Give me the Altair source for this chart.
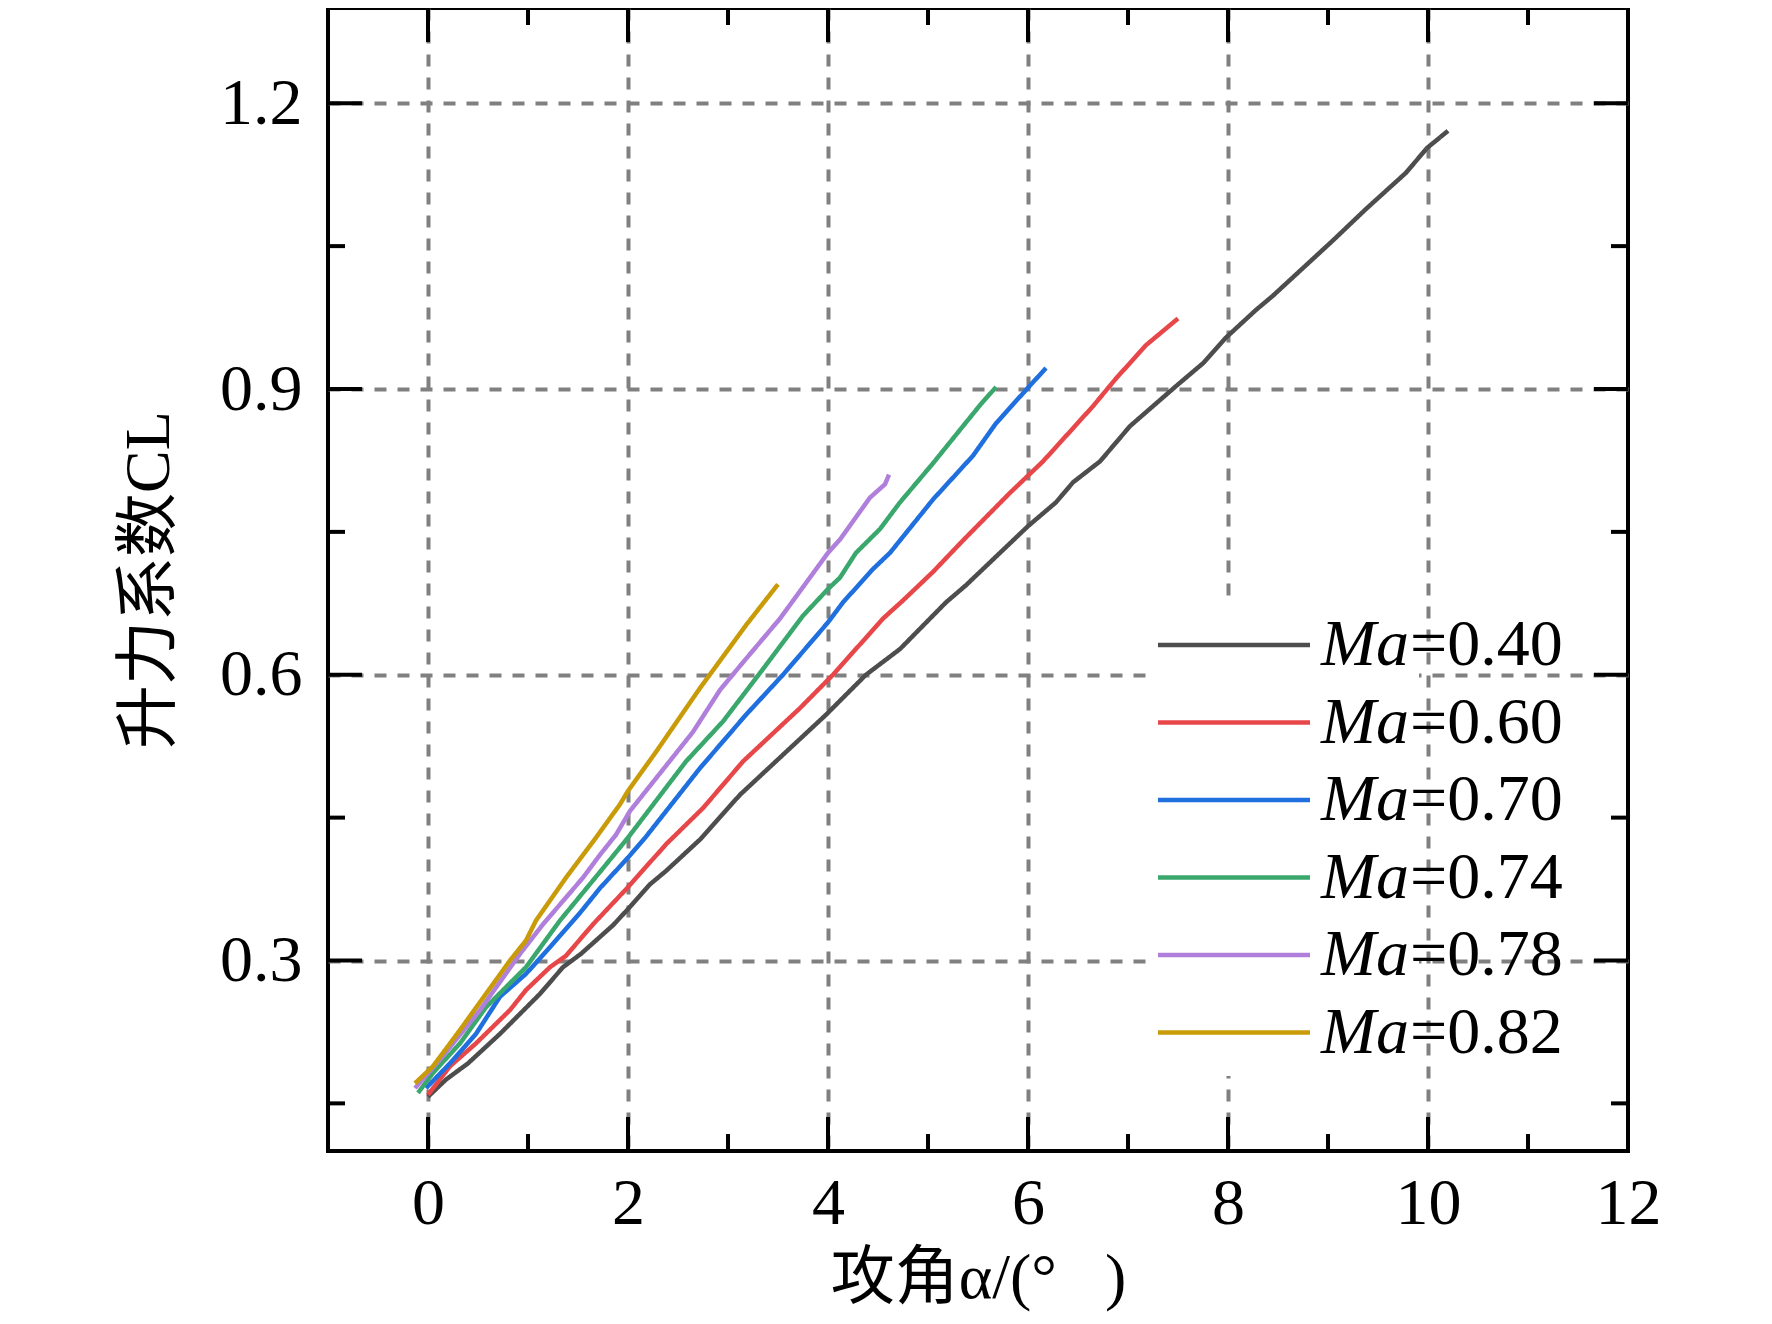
import altair as alt
import pandas as pd

# ---------------- data ----------------
mach_labels = ["0.40", "0.60", "0.70", "0.74", "0.78", "0.82"]
line_colors = ["#4d4d4d", "#e8474a", "#1f6fdf", "#3aa76d", "#b07fdb", "#c99b08"]

alpha_040 = [0.0, 0.18, 0.40, 0.72, 1.12, 1.35, 1.53, 1.85, 2.0, 2.22, 2.38, 2.72, 3.12, 3.98, 4.38, 4.72,
             5.18, 5.38, 6.0, 6.28, 6.45, 6.72, 7.02, 7.48, 7.75, 7.98, 8.28, 8.45, 9.05, 9.38, 9.78, 9.99, 10.2]
cl_040 = [0.157, 0.175, 0.192, 0.223, 0.265, 0.293, 0.307, 0.337, 0.354, 0.380, 0.394, 0.427, 0.474, 0.558, 0.600, 0.627,
          0.676, 0.694, 0.756, 0.781, 0.802, 0.824, 0.861, 0.903, 0.927, 0.954, 0.983, 0.998, 1.056, 1.089, 1.127, 1.153, 1.171]

alpha_060 = [0.0, 0.22, 0.48, 0.82, 0.98, 1.22, 1.38, 1.65, 2.0, 2.38, 2.75, 3.15, 3.72, 4.05, 4.55, 4.75,
             5.05, 5.35, 5.82, 6.15, 6.65, 6.88, 7.18, 7.50]
cl_060 = [0.159, 0.189, 0.213, 0.248, 0.269, 0.293, 0.305, 0.338, 0.377, 0.422, 0.460, 0.509, 0.565, 0.600, 0.659, 0.678,
          0.708, 0.741, 0.791, 0.824, 0.882, 0.911, 0.946, 0.974]

alpha_070 = [-0.02, 0.22, 0.48, 0.72, 0.98, 1.22, 1.52, 1.72, 2.0, 2.18, 2.72, 3.18, 3.55, 4.0, 4.15, 4.45,
             4.62, 5.05, 5.45, 5.68, 5.98, 6.18]
cl_070 = [0.166, 0.192, 0.223, 0.262, 0.286, 0.314, 0.350, 0.376, 0.408, 0.430, 0.502, 0.558, 0.600, 0.655, 0.676, 0.711,
          0.728, 0.784, 0.830, 0.864, 0.899, 0.922]

alpha_074 = [-0.10, 0.05, 0.32, 0.58, 0.98, 1.32, 1.72, 2.0, 2.58, 2.95, 3.35, 3.75, 4.0, 4.12, 4.28, 4.52,
             4.72, 5.05, 5.35, 5.52, 5.68]
cl_074 = [0.161, 0.182, 0.213, 0.251, 0.293, 0.342, 0.393, 0.429, 0.509, 0.551, 0.606, 0.662, 0.690, 0.702, 0.728, 0.753,
          0.781, 0.822, 0.861, 0.883, 0.902]

alpha_078 = [-0.13, 0.12, 0.52, 0.92, 1.15, 1.55, 1.72, 1.88, 2.02, 2.65, 2.92, 3.15, 3.52, 4.0, 4.12, 4.42, 4.57, 4.61]
cl_078 = [0.166, 0.196, 0.248, 0.307, 0.338, 0.387, 0.411, 0.432, 0.457, 0.540, 0.584, 0.613, 0.659, 0.728, 0.742, 0.786,
          0.800, 0.810]

alpha_082 = [-0.13, 0.05, 0.32, 0.58, 0.82, 0.98, 1.08, 1.38, 1.68, 1.92, 2.0, 2.28, 2.72, 3.18, 3.50]
cl_082 = [0.171, 0.189, 0.227, 0.265, 0.300, 0.321, 0.342, 0.387, 0.429, 0.464, 0.478, 0.519, 0.586, 0.652, 0.695]

x_label_values = [0, 2, 4, 6, 8, 10, 12]
y_label_values = [0.3, 0.6, 0.9, 1.2]
x_major_ticks = [0, 2, 4, 6, 8, 10]
x_minor_ticks = [1, 3, 5, 7, 9, 11]
y_major_ticks = [0.3, 0.6, 0.9, 1.2]
y_minor_ticks = [0.15, 0.45, 0.75, 1.05]

x_title = "攻角α/(°\u00a0\u00a0\u00a0)"
y_title = "升力系数CL"

# ---------------- build table ----------------
series = [(alpha_040, cl_040), (alpha_060, cl_060), (alpha_070, cl_070),
          (alpha_074, cl_074), (alpha_078, cl_078), (alpha_082, cl_082)]
rows = []
for lab, (xs, ys) in zip(mach_labels, series):
    for i, (a, c) in enumerate(zip(xs, ys)):
        rows.append({"Ma": lab, "Ma2": lab, "alpha": a, "cl": c, "idx": i})
df = pd.DataFrame(rows)

W, H = 1300, 1143
MAJ, MIN = 34, 17

serif = "Liberation Serif"
title_font = "Liberation Serif, Noto Sans CJK SC"

x_scale = alt.Scale(domain=[-1, 12], nice=False, zero=False)
y_scale = alt.Scale(domain=[0.1, 1.3], nice=False, zero=False)

x_axis = alt.Axis(
    values=x_label_values, title=x_title, grid=True, gridColor="#808080",
    gridDash=[12, 11], gridWidth=4,
    gridOpacity={"condition": {"test": "datum.value >= 12", "value": 0}, "value": 1},
    ticks=False, tickSize=0, domain=False, labelFont=serif, labelFontSize=66,
    labelColor="black", labelPadding=20, labelFlush=False, labelOverlap=False,
    titleFont=title_font, titleFontSize=64, titleFontWeight="normal",
    titleColor="black", titlePadding=10,
)
y_axis = alt.Axis(
    values=y_label_values, format=".1f", title=y_title, grid=True, gridColor="#808080",
    gridDash=[12, 11], gridWidth=4, ticks=False, tickSize=0, domain=False,
    labelFont=serif, labelFontSize=66, labelColor="black", labelPadding=26,
    labelFlush=False, labelOverlap=False,
    titleFont=title_font, titleFontSize=64, titleFontWeight="normal",
    titleColor="black", titlePadding=38,
)

nbsp = "\u00a0" * 9
legend_ma = alt.Legend(
    title=None, orient="none", legendX=819, legendY=594, padding=10,
    fillColor="white", symbolType="M-1.6,0H6", symbolSize=1600,
    symbolStrokeWidth=4.5, labelOffset=98, labelFont=serif, labelFontSize=66,
    labelFontStyle="italic", labelColor="black", labelLimit=1000,
    rowPadding=11.5, labelExpr="'Ma" + nbsp + "'",
)
legend_val = alt.Legend(
    title=None, orient="none", legendX=1002, legendY=594, padding=10,
    symbolOpacity=0, symbolSize=1600, symbolStrokeWidth=4.5, labelOffset=4,
    labelFont=serif, labelFontSize=66, labelFontStyle="normal",
    labelColor="black", labelLimit=1000, rowPadding=11.5,
    labelExpr="'=' + datum.label",
)

lines = alt.Chart(df).mark_line(strokeWidth=4.5, strokeJoin="round").encode(
    x=alt.X("alpha:Q", scale=x_scale, axis=x_axis),
    y=alt.Y("cl:Q", scale=y_scale, axis=y_axis),
    color=alt.Color("Ma:N", scale=alt.Scale(domain=mach_labels, range=line_colors), legend=legend_ma),
    strokeDash=alt.StrokeDash("Ma2:N", scale=alt.Scale(range=[[1, 0]] * 6), legend=legend_val),
    order="idx:Q",
)

def xticks(vals, length):
    d = pd.DataFrame({"alpha": vals})
    base = alt.Chart(d).mark_rule(color="black", strokeWidth=4)
    xe = alt.X("alpha:Q", scale=x_scale, axis=x_axis)
    bottom = base.encode(x=xe, y=alt.value(H), y2=alt.value(H - length))
    top = base.encode(x=xe, y=alt.value(0), y2=alt.value(length))
    return [bottom, top]

def yticks(vals, length):
    d = pd.DataFrame({"cl": vals})
    base = alt.Chart(d).mark_rule(color="black", strokeWidth=4)
    ye = alt.Y("cl:Q", scale=y_scale, axis=y_axis)
    left = base.encode(y=ye, x=alt.value(0), x2=alt.value(length))
    right = base.encode(y=ye, x=alt.value(W), x2=alt.value(W - length))
    return [left, right]

layers = [lines] + xticks(x_major_ticks, MAJ) + xticks(x_minor_ticks, MIN) \
    + yticks(y_major_ticks, MAJ) + yticks(y_minor_ticks, MIN)

chart = alt.layer(*layers).properties(
    width=W, height=H,
    padding={"left": 320, "top": 0, "right": 130, "bottom": 170},
    autosize=alt.AutoSizeParams(type="none"),
    background="white",
).configure_view(stroke="black", strokeWidth=4)

chart.save("out.html", embed_options={"renderer": "svg", "actions": False})
